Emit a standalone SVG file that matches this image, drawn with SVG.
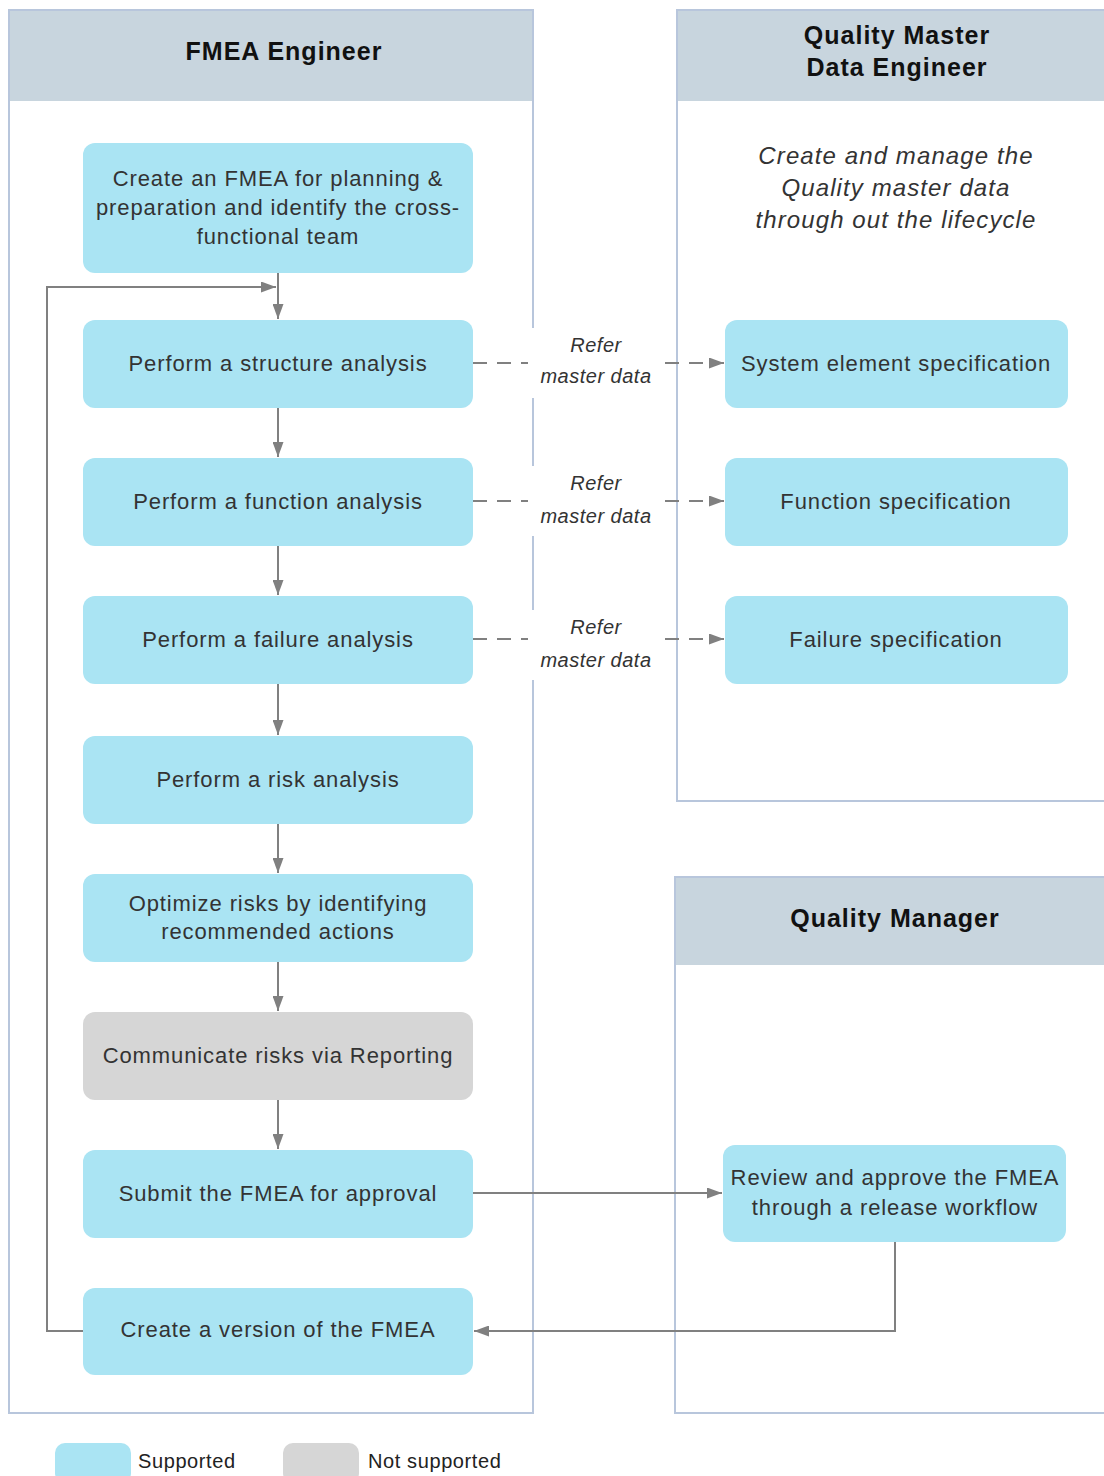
<svg xmlns="http://www.w3.org/2000/svg" width="1104" height="1476" viewBox="0 0 1104 1476">
<defs>
<marker id="ah" viewBox="0 0 15 11" refX="15" refY="5.5" markerWidth="15" markerHeight="11" markerUnits="userSpaceOnUse" orient="auto"><path d="M0,0 L15,5.5 L0,11 z" fill="#808080"/></marker>
<style>
.lane{fill:#fff;stroke:#b8c6dc;stroke-width:2}
.hdr{fill:#c8d5de}
.ht{font-family:"Liberation Sans",Arial,sans-serif;font-size:25px;font-weight:bold;fill:#111;text-anchor:middle;letter-spacing:1px}
.n{fill:#aae4f3}
.g{fill:#d6d6d6}
.t{font-family:"Liberation Sans",Arial,sans-serif;font-size:22px;fill:#333;text-anchor:middle;letter-spacing:0.9px}
.it{font-family:"Liberation Sans",Arial,sans-serif;font-size:24px;font-style:italic;fill:#333;text-anchor:middle;letter-spacing:1.1px}
.lb{font-family:"Liberation Sans",Arial,sans-serif;font-size:20px;font-style:italic;fill:#333;text-anchor:middle;letter-spacing:0.5px}
.lg{font-family:"Liberation Sans",Arial,sans-serif;font-size:20px;fill:#222;letter-spacing:0.6px}
.c{fill:none;stroke:#808080;stroke-width:2}
.d{fill:none;stroke:#808080;stroke-width:2;stroke-dasharray:14,10}
</style>
</defs>
<rect width="1104" height="1476" fill="#fff"/>
<g id="lane-fmea">
<rect class="lane" x="9" y="10" width="524" height="1403"/>
<rect class="hdr" x="10" y="11" width="522" height="90"/>
<text class="ht" x="284" y="60">FMEA Engineer</text>
</g>
<g id="lane-qmd">
<rect class="lane" x="677" y="10" width="440" height="791"/>
<rect class="hdr" x="678" y="11" width="430" height="90"/>
<text class="ht" x="897" y="44">Quality Master</text>
<text class="ht" x="897" y="76">Data Engineer</text>
<text class="it" x="896" y="164">Create and manage the</text>
<text class="it" x="896" y="196">Quality master data</text>
<text class="it" x="896" y="228">through out the lifecycle</text>
</g>
<g id="lane-qm">
<rect class="lane" x="675" y="877" width="440" height="536"/>
<rect class="hdr" x="676" y="878" width="430" height="87"/>
<text class="ht" x="895" y="927">Quality Manager</text>
</g>
<g id="connectors">
<line class="c" x1="278" y1="273" x2="278" y2="319" marker-end="url(#ah)"/>
<line class="c" x1="278" y1="408" x2="278" y2="457" marker-end="url(#ah)"/>
<line class="c" x1="278" y1="546" x2="278" y2="595" marker-end="url(#ah)"/>
<line class="c" x1="278" y1="684" x2="278" y2="735" marker-end="url(#ah)"/>
<line class="c" x1="278" y1="824" x2="278" y2="873" marker-end="url(#ah)"/>
<line class="c" x1="278" y1="962" x2="278" y2="1011" marker-end="url(#ah)"/>
<line class="c" x1="278" y1="1100" x2="278" y2="1149" marker-end="url(#ah)"/>
<polyline class="c" points="83,1331 47,1331 47,287 276,287" marker-end="url(#ah)"/>
<line class="c" x1="473" y1="1193" x2="722" y2="1193" marker-end="url(#ah)"/>
<polyline class="c" points="895,1242 895,1331 474,1331" marker-end="url(#ah)"/>
<line class="d" x1="473" y1="363" x2="724" y2="363" marker-end="url(#ah)"/>
<line class="d" x1="473" y1="501" x2="724" y2="501" marker-end="url(#ah)"/>
<line class="d" x1="473" y1="639" x2="724" y2="639" marker-end="url(#ah)"/>
<rect x="528" y="328" width="134" height="70" fill="#fff"/>
<rect x="528" y="466" width="134" height="70" fill="#fff"/>
<rect x="528" y="610" width="134" height="70" fill="#fff"/>
<text class="lb" x="596" y="352">Refer</text>
<text class="lb" x="596" y="383">master data</text>
<text class="lb" x="596" y="490">Refer</text>
<text class="lb" x="596" y="523">master data</text>
<text class="lb" x="596" y="634">Refer</text>
<text class="lb" x="596" y="667">master data</text>
</g>
<g id="n1"><rect class="n" x="83" y="143" width="390" height="130" rx="12"/>
<text class="t" x="278" y="186">Create an FMEA for planning &amp;</text>
<text class="t" x="278" y="215">preparation and identify the cross-</text>
<text class="t" x="278" y="244">functional team</text></g>
<g id="n2"><rect class="n" x="83" y="320" width="390" height="88" rx="12"/><text class="t" x="278" y="371">Perform a structure analysis</text></g>
<g id="n3"><rect class="n" x="83" y="458" width="390" height="88" rx="12"/><text class="t" x="278" y="509">Perform a function analysis</text></g>
<g id="n4"><rect class="n" x="83" y="596" width="390" height="88" rx="12"/><text class="t" x="278" y="647">Perform a failure analysis</text></g>
<g id="n5"><rect class="n" x="83" y="736" width="390" height="88" rx="12"/><text class="t" x="278" y="787">Perform a risk analysis</text></g>
<g id="n6"><rect class="n" x="83" y="874" width="390" height="88" rx="12"/>
<text class="t" x="278" y="911">Optimize risks by identifying</text>
<text class="t" x="278" y="939">recommended actions</text></g>
<g id="n7"><rect class="g" x="83" y="1012" width="390" height="88" rx="12"/><text class="t" x="278" y="1063">Communicate risks via Reporting</text></g>
<g id="n8"><rect class="n" x="83" y="1150" width="390" height="88" rx="12"/><text class="t" x="278" y="1201">Submit the FMEA for approval</text></g>
<g id="n9"><rect class="n" x="83" y="1288" width="390" height="87" rx="12"/><text class="t" x="278" y="1337">Create a version of the FMEA</text></g>
<g id="s1"><rect class="n" x="725" y="320" width="343" height="88" rx="12"/><text class="t" x="896" y="371">System element specification</text></g>
<g id="s2"><rect class="n" x="725" y="458" width="343" height="88" rx="12"/><text class="t" x="896" y="509">Function specification</text></g>
<g id="s3"><rect class="n" x="725" y="596" width="343" height="88" rx="12"/><text class="t" x="896" y="647">Failure specification</text></g>
<g id="r1"><rect class="n" x="723" y="1145" width="343" height="97" rx="12"/>
<text class="t" x="895" y="1185">Review and approve the FMEA</text>
<text class="t" x="895" y="1215">through a release workflow</text></g>
<g id="legend">
<rect class="n" x="55" y="1443" width="76" height="40" rx="10"/>
<text class="lg" x="138" y="1468">Supported</text>
<rect class="g" x="283" y="1443" width="76" height="40" rx="10"/>
<text class="lg" x="368" y="1468">Not supported</text>
</g>
</svg>
